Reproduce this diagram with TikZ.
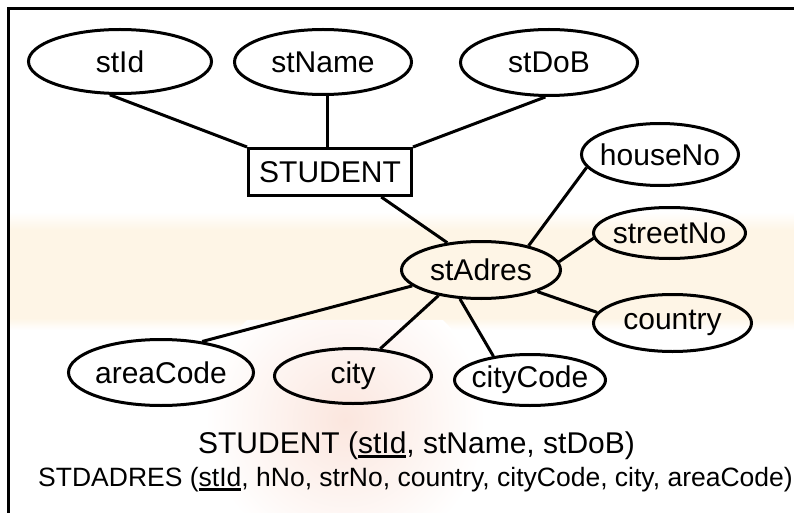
\documentclass[tikz,border=0pt]{standalone}
\usepackage{fontspec}
\setmainfont{Liberation Sans}
\usetikzlibrary{shapes.geometric}

\definecolor{bandcol}{RGB}{254,245,230}
\definecolor{markcol}{RGB}{251,230,222}
\newcommand{\keyfield}[1]{\setbox0\hbox{#1}\rlap{\rule[-4.5pt]{\wd0}{2.5pt}}\box0}

\begin{document}
\begin{tikzpicture}[x=1pt, y=-1pt]
    \tikzset{
        attr/.style = {ellipse, draw, line width=3pt, inner sep=0pt, inner xsep=-30pt, font=\fontsize{30}{36}\selectfont},
        entity/.style = {rectangle, draw, line width=3pt, inner sep=0pt, font=\fontsize{30}{36}\selectfont},
        line/.style = {draw, line width=3pt},
        schema/.style = {anchor=base, inner sep=0pt}
    }
    \useasboundingbox (0,0) rectangle (794,513);
    \shade[top color=white, bottom color=bandcol] (10,212) rectangle (794,230);
    \fill[bandcol] (10,230) rectangle (794,318);
    \shade[top color=bandcol, bottom color=white] (10,318) rectangle (794,330);
    \begin{scope}
        \clip (10,320) rectangle (794,513);
        \shade[inner color=markcol, outer color=white] (345,420) circle (140);
    \end{scope}
    \draw[line width=3pt] (8.5,513) -- (8.5,8.5) -- (794,8.5);

    \node[attr, minimum width=183pt, minimum height=64pt] (stid) at (120,61.5) {stId};
    \node[attr, minimum width=177pt, minimum height=65pt] (stname) at (323,62) {stName};
    \node[attr, minimum width=177pt, minimum height=66pt] (stdob) at (549,62.5) {stDoB};
    \node[entity, minimum width=163pt, minimum height=47pt] (student) at (330,172) {STUDENT};
    \node[attr, minimum width=157pt, minimum height=62pt] (houseno) at (660,154.5) {houseNo};
    \node[attr, minimum width=152pt, minimum height=51pt] (streetno) at (669.5,233) {streetNo};
    \node[attr, minimum width=159pt, minimum height=57pt] (stadres) at (481,270) {stAdres};
    \node[attr, minimum width=158pt, minimum height=57pt] (country) at (672.5,323) {country};
    \node[attr, minimum width=151pt, minimum height=51pt] (citycode) at (530,380) {cityCode};
    \node[attr, minimum width=157pt, minimum height=55pt] (city) at (353,376) {city};
    \node[attr, minimum width=185pt, minimum height=66pt] (areacode) at (161,372.5) {areaCode};

    \node[schema, font=\fontsize{30}{36}\selectfont] (stschema) at (416.5,453) {STUDENT (\keyfield{stId}, stName, stDoB)};
    \node[schema, font=\fontsize{26.5}{32}\selectfont] (adschema) at (415.5,486) {STDADRES (\keyfield{stId}, hNo, strNo, country, cityCode, city, areaCode)};

    \path[line] (stid.-107) -- (student.north west);
    \path[line] (stname.-82) -- (stname.-82 |- student.north);
    \path[line] (stdob.-96) -- (student.north east);
    \path[line] (student.-26) -- (stadres.141);
    \path[line] (stadres.27) -- (houseno.190);
    \path[line] (stadres.6) -- (streetno.184);
    \path[line] (stadres.-21) -- (country.172);
    \path[line] (stadres.-126) -- (citycode.147);
    \path[line] (stadres.-149) -- (city.45);
    \path[line] (stadres.-167) -- (areacode.37);
\end{tikzpicture}
\end{document}
